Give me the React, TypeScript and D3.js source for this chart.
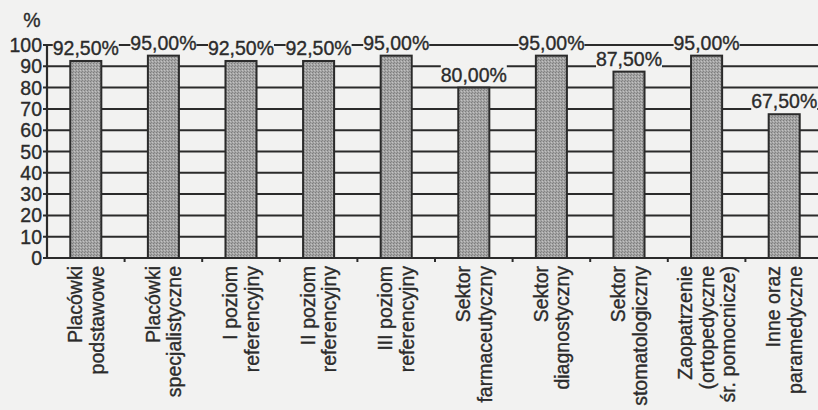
import React from "react";
import * as d3 from "d3";

const categories: string[][] = [
  ["Placówki", "podstawowe"],
  ["Placówki", "specjalistyczne"],
  ["I poziom", "referencyjny"],
  ["II poziom", "referencyjny"],
  ["III poziom", "referencyjny"],
  ["Sektor", "farmaceutyczny"],
  ["Sektor", "diagnostyczny"],
  ["Sektor", "stomatologiczny"],
  ["Zaopatrzenie", "(ortopedyczne", "śr. pomocnicze)"],
  ["Inne oraz", "paramedyczne"],
];
const values: number[] = [92.5, 95, 92.5, 92.5, 95, 80, 95, 87.5, 95, 67.5];
const yTicks: number[] = [0, 10, 20, 30, 40, 50, 60, 70, 80, 90, 100];

const W = 818;
const H = 410;
const BG = "#f2f2f1";
const INK = "#2b2b2b";
const FONT = "'Liberation Sans', Arial, Helvetica, sans-serif";
const FS = 19.5;

export default function App() {
  const keys = categories.map((c) => c.join(" "));
  const x = d3.scaleBand<string>().domain(keys).range([47, 823]).paddingInner(0.6).paddingOuter(0.3);
  const y = d3.scaleLinear().domain([0, 100]).range([258, 45]);
  const step = x.step();
  const x0 = 47;
  const fmt = (v: number) => v.toFixed(2).replace(".", ",") + "%";
  const textStyle = { stroke: INK, strokeWidth: 0.35 };

  return (
    <svg width={W} height={H} style={{ position: "absolute", left: 0, top: 0, background: BG }} fontFamily={FONT}>
      <defs>
        <pattern id="dots" width="3" height="3" patternUnits="userSpaceOnUse">
          <rect width="3" height="3" fill="#a4a4a4" />
          <rect x="0" y="0" width="1" height="1" fill="#7c7c7c" />
          <rect x="2" y="1" width="1" height="1" fill="#c2c2c2" />
          <rect x="1" y="2" width="1" height="1" fill="#858585" />
        </pattern>
      </defs>
      <rect width={W} height={H} fill={BG} />
      {yTicks.filter((t) => t > 0).map((t) => (
        <line key={"g" + t} x1={43} x2={W} y1={y(t)} y2={y(t)} stroke={INK} strokeWidth={2} />
      ))}
      {yTicks.map((t) => (
        <text key={"t" + t} x={42} y={y(t)} dy="0.36em" textAnchor="end" fontSize={FS} fill={INK} style={textStyle}>
          {t}
        </text>
      ))}
      <text x={32} y={20} dy="0.36em" textAnchor="middle" fontSize={FS} fill={INK} style={textStyle}>%</text>
      <line x1={x0} x2={x0} y1={y(100)} y2={y(0)} stroke={INK} strokeWidth={2.2} />
      <line x1={43} x2={W} y1={y(0)} y2={y(0)} stroke={INK} strokeWidth={2.2} />
      {keys.map((k, i) => (
        <line key={"xt" + i} x1={x0 + (i + 1) * step} x2={x0 + (i + 1) * step} y1={y(0)} y2={y(0) + 4} stroke={INK} strokeWidth={2} />
      ))}
      {keys.map((k, i) => (
        <rect
          key={"b" + i}
          x={x(k)}
          y={y(values[i])}
          width={x.bandwidth()}
          height={y(0) - y(values[i])}
          fill="url(#dots)"
          stroke={INK}
          strokeWidth={2}
        />
      ))}
      {keys.map((k, i) => {
        const cx = (x(k) as number) + x.bandwidth() / 2;
        const cy = y(values[i]) - 13;
        return (
          <g key={"v" + i}>
            <rect x={cx - 33} y={cy - 10} width={66} height={20} fill={BG} />
            <text x={cx} y={cy} dy="0.36em" textAnchor="middle" fontSize={FS} fill={INK} style={textStyle}>
              {fmt(values[i])}
            </text>
          </g>
        );
      })}
      {categories.map((lines, i) => {
        const cx = (x(keys[i]) as number) + x.bandwidth() / 2;
        const lh = 21.5;
        const n = lines.length;
        return (
          <g key={"c" + i}>
            {lines.map((ln, j) => {
              const lx = cx + (j - (n - 1) / 2) * lh;
              return (
                <text
                  key={j}
                  transform={`translate(${lx},266) rotate(-90)`}
                  textAnchor="end"
                  dy="0.36em"
                  fontSize={FS}
                  fill={INK}
                  style={textStyle}
                >
                  {ln}
                </text>
              );
            })}
          </g>
        );
      })}
    </svg>
  );
}
